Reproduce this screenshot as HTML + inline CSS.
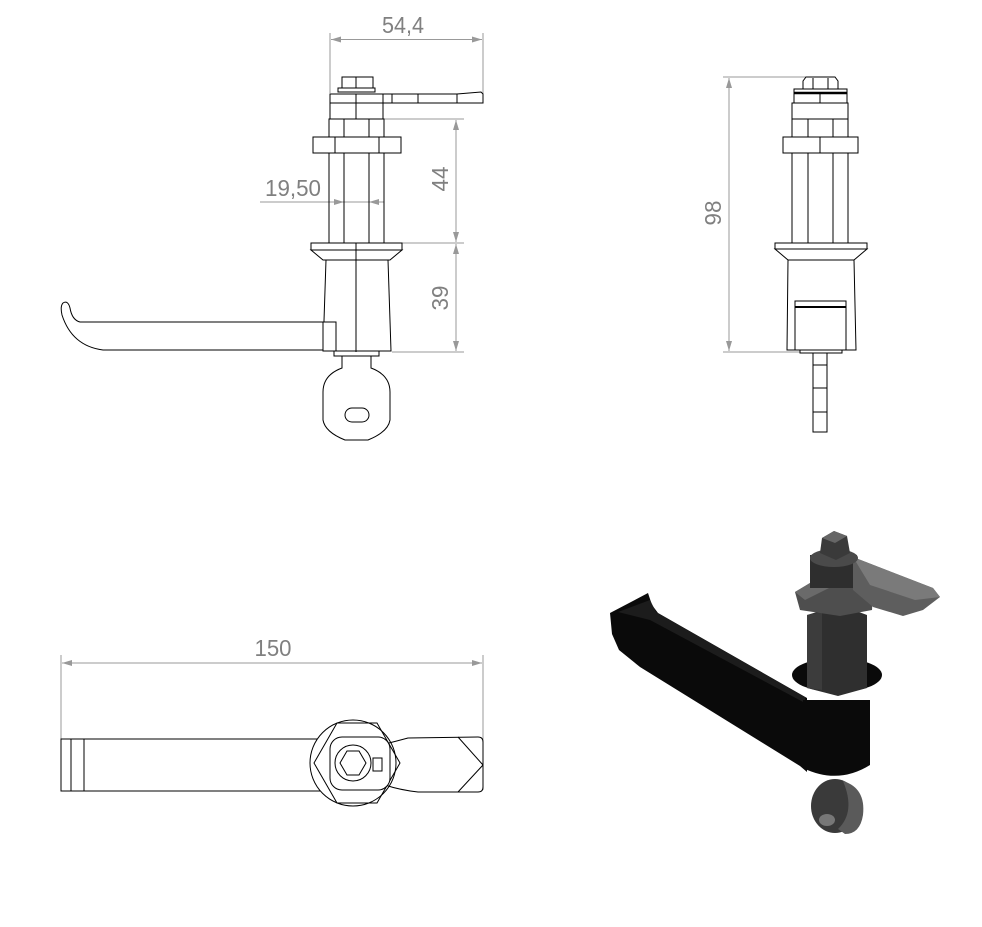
<!DOCTYPE html>
<html><head><meta charset="utf-8"><style>
html,body{margin:0;padding:0;background:#fff}
svg{display:block}
text{font-family:"Liberation Sans",sans-serif;fill:#808080;font-size:23px}
</style></head><body>
<svg width="982" height="927" viewBox="0 0 982 927" xmlns="http://www.w3.org/2000/svg">
<defs>
<marker id="a" viewBox="0 0 10 6" refX="10" refY="3" markerWidth="10" markerHeight="6" orient="auto-start-reverse" markerUnits="userSpaceOnUse"><path d="M0,0 L10,3 L0,6 Z" fill="#999"/></marker>
</defs>

<!-- ===== FRONT VIEW ===== -->
<g stroke="#999" stroke-width="1" fill="none">
<line x1="330" y1="33" x2="330" y2="93"/>
<line x1="483" y1="33" x2="483" y2="100"/>
<line x1="331" y1="39.5" x2="482" y2="39.5" marker-start="url(#a)" marker-end="url(#a)"/>
<line x1="384" y1="119" x2="464" y2="119"/>
<line x1="400" y1="243" x2="464" y2="243"/>
<line x1="392" y1="352" x2="464" y2="352"/>
<line x1="456" y1="120" x2="456" y2="242" marker-start="url(#a)" marker-end="url(#a)"/>
<line x1="456" y1="244" x2="456" y2="351" marker-start="url(#a)" marker-end="url(#a)"/>
<line x1="260" y1="202" x2="384" y2="202"/>
<line x1="334" y1="202" x2="344" y2="202" marker-end="url(#a)"/>
<line x1="379" y1="202" x2="369" y2="202" marker-end="url(#a)"/>
</g>
<text x="403" y="33" text-anchor="middle" textLength="42" lengthAdjust="spacingAndGlyphs">54,4</text>
<text x="293" y="196" text-anchor="middle" textLength="56" lengthAdjust="spacingAndGlyphs">19,50</text>
<text transform="translate(448,179) rotate(-90)" text-anchor="middle" textLength="25" lengthAdjust="spacingAndGlyphs">44</text>
<text transform="translate(448,298) rotate(-90)" text-anchor="middle" textLength="25" lengthAdjust="spacingAndGlyphs">39</text>

<g stroke="#000" stroke-width="1" fill="none">
<rect x="342" y="77" width="31" height="11"/>
<line x1="356" y1="77" x2="356" y2="88"/>
<rect x="338" y="88" width="37" height="4"/>
<rect x="330" y="94" width="53" height="9"/>
<rect x="383" y="94" width="74" height="9"/>
<line x1="392" y1="94" x2="392" y2="103"/>
<line x1="418" y1="94" x2="418" y2="103"/>
<polygon points="457,94 481,92 483,94 483,103 457,103"/>
<rect x="330" y="103" width="53" height="16"/>
<line x1="356" y1="94" x2="356" y2="119"/>
<rect x="329" y="119" width="55" height="124"/>
<line x1="344" y1="119" x2="344" y2="243"/>
<line x1="369" y1="119" x2="369" y2="243"/>
<rect x="313" y="137" width="88" height="16" fill="#fff"/>
<line x1="335" y1="137" x2="335" y2="153"/>
<line x1="379" y1="137" x2="379" y2="153"/>
<rect x="311" y="243" width="91" height="7"/>
<polygon points="311,250 402,250 390,260 323,260"/>
<line x1="356" y1="243" x2="356" y2="352"/>
<polygon points="326,260 388,260 391,351 323,351"/>
<path d="M336,322 L80,322 Q72,320 70,308 Q68,300 63,303 Q60,306 62,315 Q72,346 103,350 L335,350"/>
<rect x="323" y="322" width="13" height="29" fill="#fff"/>
<rect x="334" y="351" width="45" height="5"/>
<path d="M342,356 L342,368 Q323,375 323,392 L323,420 Q325,432 345,440 L368,440 Q388,432 390,420 L390,392 Q390,375 371,368 L371,356"/>
<rect x="345" y="408" width="24" height="14" rx="7"/>
</g>

<!-- ===== SIDE VIEW ===== -->
<g stroke="#999" stroke-width="1" fill="none">
<line x1="723" y1="77" x2="810" y2="77"/>
<line x1="723" y1="352" x2="800" y2="352"/>
<line x1="729" y1="78" x2="729" y2="351" marker-start="url(#a)" marker-end="url(#a)"/>
</g>
<text transform="translate(721,213) rotate(-90)" text-anchor="middle" textLength="25" lengthAdjust="spacingAndGlyphs">98</text>
<g stroke="#000" stroke-width="1" fill="none">
<polygon points="806,77 835,77 838,81 838,89 803,89 803,81"/>
<line x1="813" y1="78" x2="813" y2="89"/><line x1="828" y1="78" x2="828" y2="89"/>
<rect x="794" y="89" width="53" height="4"/>
<rect x="794" y="93" width="53" height="10"/>
<line x1="794" y1="93" x2="847" y2="93" stroke-width="2.5"/>
<line x1="820" y1="93" x2="820" y2="103"/>
<rect x="792" y="103" width="56" height="140"/>
<line x1="808" y1="119" x2="808" y2="243"/>
<line x1="833" y1="119" x2="833" y2="243"/>
<line x1="792" y1="119" x2="848" y2="119"/>
<rect x="783" y="137" width="75" height="16" fill="#fff"/>
<line x1="820" y1="137" x2="820" y2="153"/>
<rect x="775" y="243" width="92" height="6"/>
<polygon points="775,249 867,249 854,260 788,260"/>
<polygon points="788,260 854,260 856,350 787,350"/>
<rect x="795" y="301" width="51" height="49"/>
<line x1="795" y1="307" x2="846" y2="307" stroke-width="2"/>
<rect x="800" y="350" width="42" height="3"/>
<rect x="813" y="353" width="14" height="79"/>
<line x1="813" y1="365" x2="827" y2="365"/>
<line x1="813" y1="388" x2="827" y2="388"/>
<line x1="813" y1="412" x2="827" y2="412"/>
</g>

<!-- ===== TOP VIEW ===== -->
<g stroke="#999" stroke-width="1" fill="none">
<line x1="61" y1="655" x2="61" y2="790"/>
<line x1="483" y1="655" x2="483" y2="790"/>
<line x1="62" y1="663" x2="482" y2="663" marker-start="url(#a)" marker-end="url(#a)"/>
</g>
<text x="273" y="656" text-anchor="middle" textLength="37" lengthAdjust="spacingAndGlyphs">150</text>
<g stroke="#000" stroke-width="1" fill="none">
<path d="M320,739 L61,739 L61,791 L320,791"/>
<line x1="71" y1="739" x2="71" y2="791"/>
<line x1="84" y1="739" x2="84" y2="791"/>
<circle cx="353" cy="763" r="43" fill="#fff"/>
<polygon points="337,723 377,723 400,763 377,803 337,803 314,763"/>
<path d="M385,744 Q397,741 408,738 L478,737 Q483,737 483,742 L483,787 Q483,792 478,792 L418,792 Q400,790 385,785"/>
<line x1="458" y1="737" x2="483" y2="765"/>
<line x1="483" y1="765" x2="458" y2="792"/>
<rect x="330" y="737" width="60" height="53" rx="12" fill="#fff"/>
<circle cx="353" cy="763" r="18" fill="#fff"/>
<polygon points="347,751 359,751 366,763 359,775 347,775 340,763"/>
<rect x="373" y="758" width="9" height="13"/>
</g>

<!-- ===== ISO VIEW ===== -->
<g>
<polygon points="610,613 648,593 652,605 658,613 807,698 807,772 800,766 640,667 619,650 612,634" fill="#0a0a0a"/>
<polygon points="618,612 650,600 656,612 805,697 805,703 650,620" fill="#1c1c1c"/>
<ellipse cx="835" cy="806" rx="24" ry="27" fill="#3a3a3a"/>
<path d="M843,781 Q866,788 863,815 Q860,834 845,834 L838,829 Q856,812 843,781Z" fill="#5a5a5a"/>
<ellipse cx="827" cy="820" rx="8" ry="6" fill="#777"/>
<path d="M803,700 L870,700 L870,765 Q838,785 803,768 Z" fill="#0a0a0a"/>
<ellipse cx="837" cy="675" rx="45" ry="17" fill="#0a0a0a"/>
<polygon points="807,615 840,605 867,615 867,688 838,696 807,688" fill="#2f2f2f"/>
<polygon points="807,615 822,612 822,690 807,688" fill="#3c3c3c"/>
<polygon points="795,592 820,577 860,578 873,592 872,610 840,616 800,610" fill="#4e4e4e"/>
<polygon points="795,592 820,577 835,585 805,600" fill="#6a6a6a"/>
<rect x="810" y="555" width="47" height="33" fill="#2e2e2e"/>
<polygon points="853,557 933,588 940,597 923,610 903,616 873,607 853,590" fill="#5e5e5e"/>
<polygon points="853,557 933,588 940,597 915,600 870,585" fill="#7a7a7a"/>
<ellipse cx="834" cy="558" rx="24" ry="9" fill="#4a4a4a"/>
<polygon points="822,538 834,531 847,536 850,553 836,560 820,553" fill="#3a3a3a"/>
<polygon points="822,538 834,531 847,536 835,543" fill="#666"/>
</g>
</svg>
</body></html>
